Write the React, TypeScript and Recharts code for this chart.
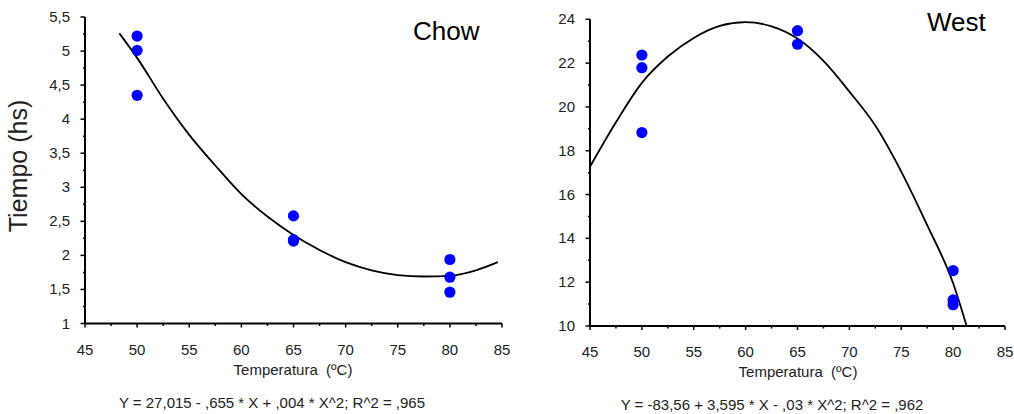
import React from 'react';
import { ComposedChart, XAxis, YAxis, Line, Scatter } from 'recharts';

// ---- tick values ----
const xTicks = [45, 47.5, 50, 52.5, 55, 57.5, 60, 62.5, 65, 67.5, 70, 72.5, 75, 77.5, 80, 82.5, 85];
const chowYTicks = [1, 1.25, 1.5, 1.75, 2, 2.25, 2.5, 2.75, 3, 3.25, 3.5, 3.75, 4, 4.25, 4.5, 4.75, 5, 5.25, 5.5];
const westYTicks = [10, 11, 12, 13, 14, 15, 16, 17, 18, 19, 20, 21, 22, 23, 24];

// ---- Chow: fitted curve ----
const chowCurveX = [48.3, 50, 52.5, 55, 57.5, 60, 62.5, 65, 67.5, 70, 72.5, 75, 77.5, 80, 82.5, 84.6];
const chowCurveY = [5.26, 4.9, 4.3, 3.77, 3.32, 2.9, 2.57, 2.3, 2.08, 1.9, 1.78, 1.71, 1.69, 1.7, 1.78, 1.9];
// ---- Chow: observations ----
const chowPointX = [50, 50, 50, 65, 65, 65, 80, 80, 80];
const chowPointY = [5.22, 5.01, 4.35, 2.58, 2.23, 2.21, 1.94, 1.68, 1.46];

// ---- West: fitted curve ----
const westCurveX = [45, 47.5, 50, 52.5, 55, 57.5, 60, 62.5, 65, 67.5, 70, 72.5, 75, 77.5, 80, 81.3];
const westCurveY = [17.27, 19.3, 21.1, 22.3, 23.15, 23.7, 23.87, 23.68, 23.12, 22.1, 20.7, 19.15, 17.05, 14.6, 11.95, 10.0];
// ---- West: observations ----
const westPointX = [50, 50, 50, 65, 65, 80, 80, 80];
const westPointY = [22.37, 21.79, 18.83, 23.48, 22.86, 12.53, 11.19, 10.97];

const zip = (xs: number[], ys: number[]) => xs.map((x, i) => ({ x, y: ys[i] }));
const chowCurve = zip(chowCurveX, chowCurveY);
const chowPoints = zip(chowPointX, chowPointY);
const westCurve = zip(westCurveX, westCurveY);
const westPoints = zip(westPointX, westPointY);

const FONT = '"Liberation Sans", Arial, sans-serif';
const TXT = '#222';

const XTick = (props: any) => {
  const { x, y, payload } = props;
  const v = payload.value as number;
  const major = Math.abs(v % 5) < 1e-6;
  return (
    <g>
      <line x1={x} x2={x} y1={y} y2={y + (major ? 4 : 2.5)} stroke="#000" strokeWidth={1.5} />
      {major && (
        <text x={x} y={y + 31} textAnchor="middle" fontSize={15} fill={TXT} fontFamily={FONT}>
          {v}
        </text>
      )}
    </g>
  );
};

const makeYTick = (step: number) => (props: any) => {
  const { x, y, payload } = props;
  const v = payload.value as number;
  const major = Math.abs(v / step - Math.round(v / step)) < 1e-6;
  return (
    <g>
      <line x1={x - (major ? 4.5 : 2)} x2={x} y1={y} y2={y} stroke="#000" strokeWidth={1.5} />
      {major && (
        <text x={x - 15} y={y + 5} textAnchor="end" fontSize={15} fill={TXT} fontFamily={FONT}>
          {String(v).replace('.', ',')}
        </text>
      )}
    </g>
  );
};

const ChowYTick = makeYTick(0.5);
const WestYTick = makeYTick(2);

const Dot = (p: any) => <circle cx={p.cx} cy={p.cy} r={5.6} fill="#0000ff" />;

export default function App() {
  return (
    <div style={{ position: 'absolute', left: 0, top: 0, width: 1014, height: 414, background: '#fff' }}>
      <div style={{ position: 'absolute', left: 0, top: 0 }}>
        <ComposedChart width={520} height={414} margin={{ top: 17, right: 18, left: 35, bottom: 60.5 }}>
          <XAxis
            dataKey="x"
            type="number"
            domain={[45, 85]}
            ticks={xTicks}
            interval={0}
            tickSize={0}
            tickMargin={0}
            tickLine={false}
            tick={XTick}
            height={30}
            axisLine={{ stroke: '#000', strokeWidth: 2 }}
          />
          <YAxis
            dataKey="y"
            type="number"
            domain={[1, 5.5]}
            ticks={chowYTicks}
            interval={0}
            tickSize={0}
            tickMargin={0}
            tickLine={false}
            tick={ChowYTick}
            width={50}
            axisLine={{ stroke: '#000', strokeWidth: 2 }}
          />
          <Line data={chowCurve} dataKey="y" type="monotone" stroke="#000" strokeWidth={1.8} dot={false} isAnimationActive={false} />
          <Scatter data={chowPoints} dataKey="y" shape={Dot} isAnimationActive={false} />
        </ComposedChart>
      </div>
      <div style={{ position: 'absolute', left: 520, top: 0 }}>
        <ComposedChart width={494} height={414} margin={{ top: 19.3, right: 9, left: 20, bottom: 58 }}>
          <XAxis
            dataKey="x"
            type="number"
            domain={[45, 85]}
            ticks={xTicks}
            interval={0}
            tickSize={0}
            tickMargin={0}
            tickLine={false}
            tick={XTick}
            height={30}
            axisLine={{ stroke: '#000', strokeWidth: 2 }}
          />
          <YAxis
            dataKey="y"
            type="number"
            domain={[10, 24]}
            ticks={westYTicks}
            interval={0}
            tickSize={0}
            tickMargin={0}
            tickLine={false}
            tick={WestYTick}
            width={50}
            axisLine={{ stroke: '#000', strokeWidth: 2 }}
          />
          <Line data={westCurve} dataKey="y" type="monotone" stroke="#000" strokeWidth={1.8} dot={false} isAnimationActive={false} />
          <Scatter data={westPoints} dataKey="y" shape={Dot} isAnimationActive={false} />
        </ComposedChart>
      </div>
      <svg width={1014} height={414} style={{ position: 'absolute', left: 0, top: 0, pointerEvents: 'none' }}>
        <g fontFamily={FONT} fill={TXT}>
          <text x={413} y={40} fontSize={26} fill="#000">Chow</text>
          <text x={927} y={31} fontSize={26} fill="#000">West</text>
          <text transform="translate(27,166) rotate(-90)" textAnchor="middle" fontSize={25} fill="#222">Tiempo (hs)</text>
          <text x={293} y={375} textAnchor="middle" fontSize={15} style={{ whiteSpace: 'pre' }}>{'Temperatura  (ºC)'}</text>
          <text x={798} y={377} textAnchor="middle" fontSize={15} style={{ whiteSpace: 'pre' }}>{'Temperatura  (ºC)'}</text>
          <text x={272} y={408} textAnchor="middle" fontSize={15} style={{ whiteSpace: 'pre' }}>{'Y = 27,015 - ,655 * X + ,004 * X^2; R^2 = ,965'}</text>
          <text x={772} y={410} textAnchor="middle" fontSize={15} style={{ whiteSpace: 'pre' }}>{'Y = -83,56 + 3,595 * X - ,03 * X^2; R^2 = ,962'}</text>
        </g>
      </svg>
    </div>
  );
}
